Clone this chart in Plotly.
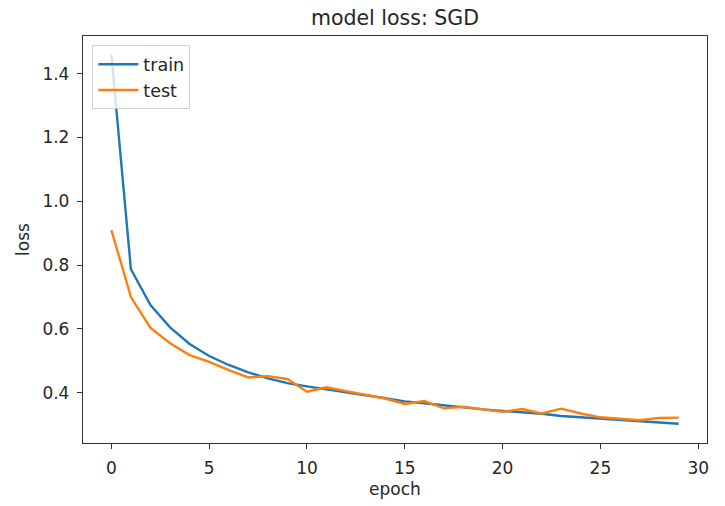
import plotly.graph_objects as go

epochs = list(range(30))
train_loss = [1.46, 0.787, 0.675, 0.605, 0.553, 0.515, 0.487, 0.464, 0.445, 0.430,
              0.420, 0.410, 0.400, 0.392, 0.383, 0.373, 0.367, 0.360, 0.355, 0.348,
              0.343, 0.339, 0.334, 0.327, 0.323, 0.319, 0.315, 0.311, 0.307, 0.303]
test_loss = [0.910, 0.700, 0.603, 0.555, 0.518, 0.497, 0.471, 0.448, 0.452, 0.443,
             0.403, 0.417, 0.405, 0.393, 0.382, 0.365, 0.374, 0.351, 0.356, 0.348,
             0.340, 0.349, 0.335, 0.350, 0.335, 0.323, 0.318, 0.314, 0.321, 0.322]
x_ticks = [0, 5, 10, 15, 20, 25, 30]
y_ticks = [0.4, 0.6, 0.8, 1.0, 1.2, 1.4]

FONT = "DejaVu Sans"

fig = go.Figure()
fig.add_trace(go.Scatter(x=epochs, y=train_loss, mode="lines", name="train",
                         line=dict(color="#1f77b4", width=2.4)))
fig.add_trace(go.Scatter(x=epochs, y=test_loss, mode="lines", name="test",
                         line=dict(color="#ff7f0e", width=2.4)))

fig.update_layout(
    width=725, height=506,
    margin=dict(l=83, r=18, t=36, b=63),
    paper_bgcolor="white", plot_bgcolor="white",
    font=dict(family=FONT, size=17, color="#262626"),
    title=dict(text="model loss: SGD", x=0.5, xref="paper", xanchor="center",
               y=1 - 18 / 506, yref="container", yanchor="middle",
               font=dict(family=FONT, size=20.5, color="#262626")),
    showlegend=True,
    legend=dict(x=0.015, y=0.977, xanchor="left", yanchor="top",
                bgcolor="rgba(255,255,255,0.8)", bordercolor="#d0d0d0", borderwidth=1,
                font=dict(family=FONT, size=17.5, color="#262626"),
                tracegroupgap=4, itemwidth=40,
                entrywidth=105, entrywidthmode="pixels"),
)

fig.update_xaxes(
    range=[-1.45, 30.45], tickvals=x_ticks, ticktext=[str(v) for v in x_ticks],
    showgrid=False, zeroline=False,
    showline=True, linecolor="#333333", linewidth=1.3, mirror=True,
    ticks="outside", ticklen=5, tickwidth=1.2, tickcolor="#333333",
    ticklabelstandoff=4,
    title=dict(text="epoch", standoff=6, font=dict(size=17)),
)
fig.update_yaxes(
    range=[0.2425, 1.518], tickvals=y_ticks, ticktext=[f"{v:.1f}" for v in y_ticks],
    showgrid=False, zeroline=False,
    showline=True, linecolor="#333333", linewidth=1.3, mirror=True,
    ticks="outside", ticklen=5, tickwidth=1.2, tickcolor="#333333",
    ticklabelstandoff=4,
    title=dict(text="loss", standoff=8, font=dict(size=17)),
)

fig.write_html("out.html")
